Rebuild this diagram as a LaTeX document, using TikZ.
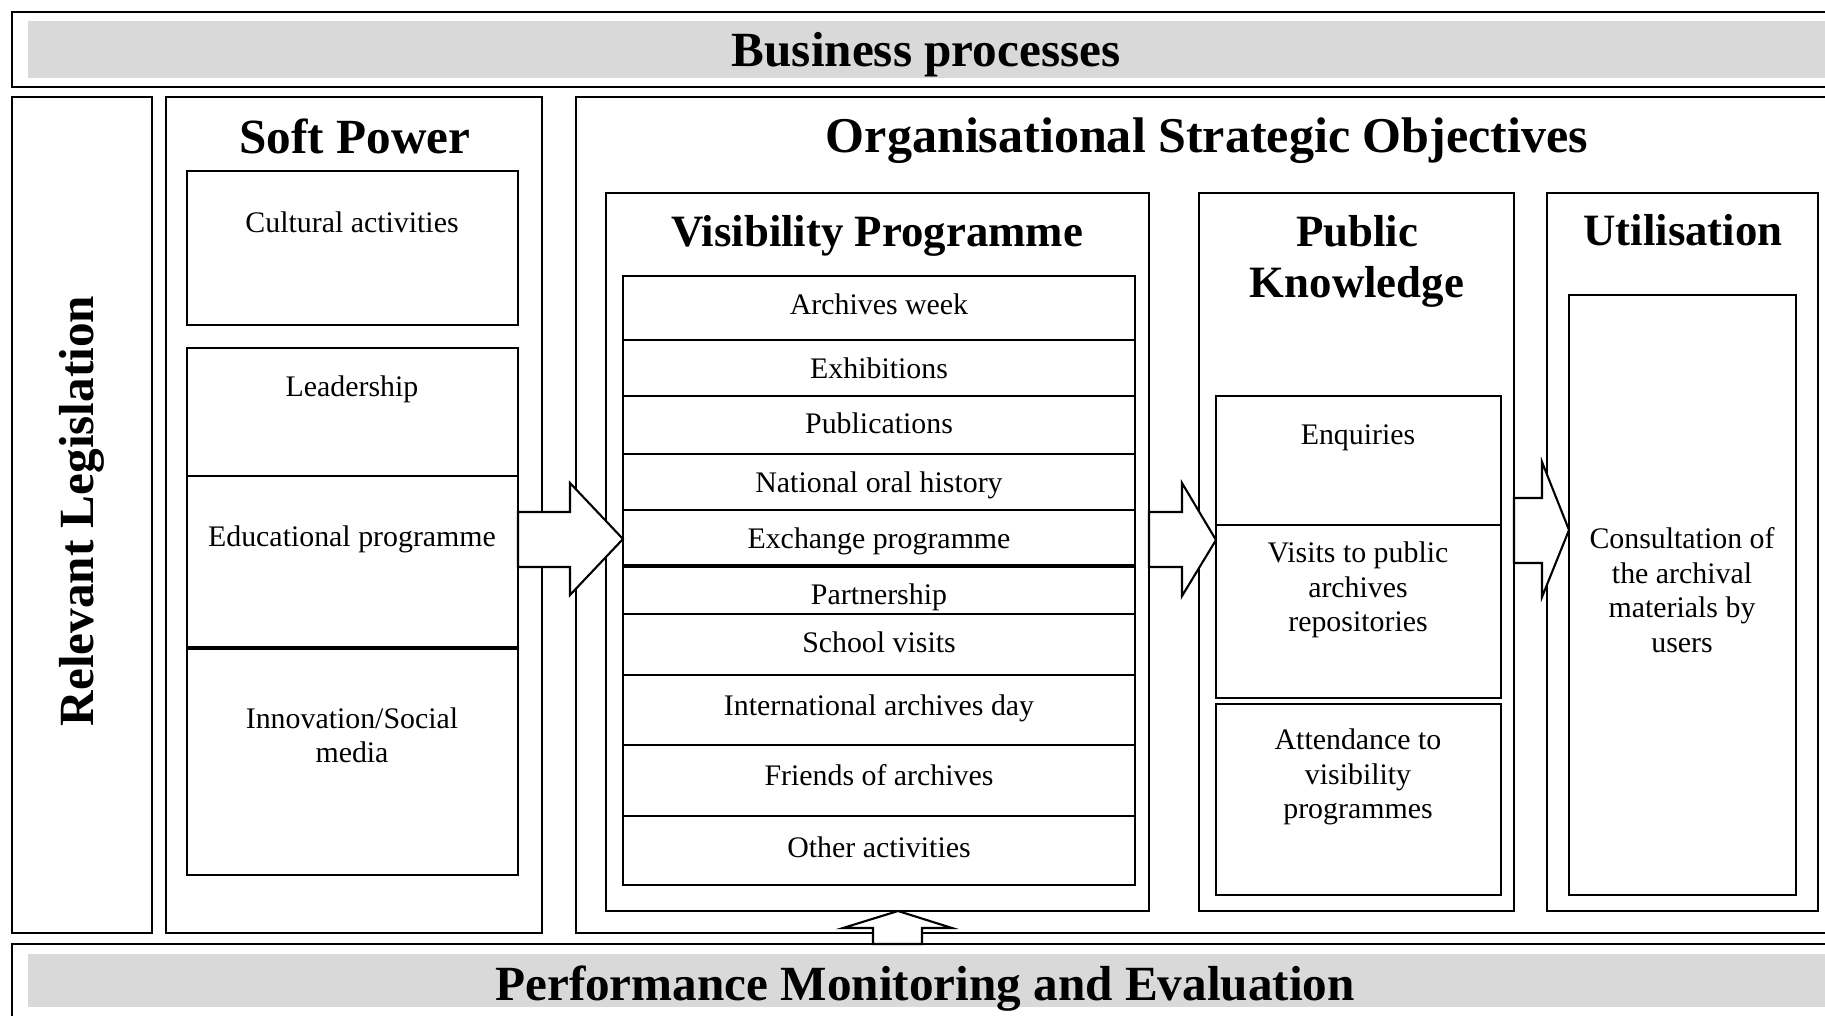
\documentclass[tikz,border=0pt]{standalone}
\usepackage{fontspec}
\setmainfont{Liberation Serif}
\usetikzlibrary{positioning,fit,calc}
\definecolor{bandgray}{RGB}{217,217,217}

\tikzset{
  outerframe/.style={draw, line width=1.3pt, inner sep=0pt, outer sep=0pt},
  innerbox/.style={draw, line width=1.2pt, fill=white, inner sep=0pt, outer sep=0pt},
  grayband/.style={fill=bandgray, inner sep=0pt},
  maintitle/.style={font=\fontsize{28}{32}\selectfont\bfseries},
  paneltitle/.style={font=\fontsize{25.5}{29}\selectfont\bfseries, align=center},
  entrytext/.style={font=\fontsize{17}{19.6}\selectfont, text height=15pt, text depth=1.5pt},
  entrylines/.style={font=\fontsize{17}{19.6}\selectfont, align=center},
  thicksep/.style={line width=2pt},
  fatarrow/.style={draw, line width=1.2pt, fill=white, line join=miter},
}

\begin{document}
\begin{tikzpicture}[x=0.02cm, y=-0.02cm]
\path[use as bounding box, clip] (0,0) rectangle (1825,1016);

% top band
\node[outerframe, fit={(12,12) (1860,87)}] (bpframe) {};
\node[grayband, fit={(28,21) (1860,78)}] (bpband) {};
\node[maintitle] (bptitle) at (926,55) {Business processes};

% legislation
\node[outerframe, fit={(12,97) (152,933)}] (legbox) {};
\node[maintitle, rotate=90] (legtitle) at (82,511) {Relevant Legislation};

% soft power
\node[outerframe, fit={(166,97) (542,933)}] (spbox) {};
\node[maintitle] (sptitle) at (355,136) {Soft Power};
\node[innerbox, fit={(187,171) (518,325)}] (cult) {};
\node[innerbox, fit={(187,348) (518,476)}] (lead) {};
\node[innerbox, fit={(187,476) (518,648)}] (educ) {};
\node[innerbox, fit={(187,648) (518,875)}] (innov) {};
\draw[thicksep] (innov.north west) -- (innov.north east);
\node[entrytext] (culttxt) at (352,221) {Cultural activities};
\node[entrytext] (leadtxt) at (352,385) {Leadership};
\node[entrytext] (eductxt) at (352,535) {Educational programme};
\node[entrylines] (innovtxt) at (352,735) {Innovation/Social\\media};

% strategic objectives
\node[outerframe, fit={(576,97) (1860,933)}] (osobox) {};
\node[maintitle, font=\fontsize{28.5}{32}\selectfont\bfseries] (osotitle) at (1207,141) {Organisational Strategic Objectives};

% visibility programme
\node[innerbox, fit={(606,193) (1149,911)}] (visbox) {};
\node[paneltitle] (vistitle) at (877,236) {Visibility Programme};
\node[innerbox, fit={(623,276) (1135,340)}] (archweek) {};
\node[innerbox, fit={(623,340) (1135,396)}] (exhib) {};
\node[innerbox, fit={(623,396) (1135,454)}] (publ) {};
\node[innerbox, fit={(623,454) (1135,510)}] (oralhist) {};
\node[innerbox, fit={(623,510) (1135,566)}] (exchange) {};
\node[innerbox, fit={(623,566) (1135,614)}] (partner) {};
\node[innerbox, fit={(623,614) (1135,675)}] (school) {};
\node[innerbox, fit={(623,675) (1135,745)}] (intday) {};
\node[innerbox, fit={(623,745) (1135,816)}] (friends) {};
\node[innerbox, fit={(623,816) (1135,885)}] (other) {};
\draw[thicksep] (partner.north west) -- (partner.north east);
\node[entrytext] (archweektxt) at (879,303) {Archives week};
\node[entrytext] (exhibtxt) at (879,367) {Exhibitions};
\node[entrytext] (publtxt) at (879,422) {Publications};
\node[entrytext] (oralhisttxt) at (879,481) {National oral history};
\node[entrytext] (exchangetxt) at (879,537) {Exchange programme};
\node[entrytext] (partnertxt) at (879,593) {Partnership};
\node[entrytext] (schooltxt) at (879,641) {School visits};
\node[entrytext] (intdaytxt) at (879,704) {International archives day};
\node[entrytext] (friendstxt) at (879,774) {Friends of archives};
\node[entrytext] (othertxt) at (879,846) {Other activities};

% public knowledge
\node[innerbox, fit={(1199,193) (1514,911)}] (pkbox) {};
\node[paneltitle] (pktitle) at (1357,261) {Public\\Knowledge};
\node[innerbox, fit={(1216,396) (1501,525)}] (enq) {};
\node[innerbox, fit={(1216,525) (1501,698)}] (visits) {};
\node[innerbox, fit={(1216,704) (1501,895)}] (attend) {};
\node[entrytext] (enqtxt) at (1358,433) {Enquiries};
\node[entrylines] (visitstxt) at (1358,590) {Visits to public\\archives\\repositories};
\node[entrylines] (attendtxt) at (1358,777) {Attendance to\\visibility\\programmes};

% utilisation
\node[innerbox, fit={(1547,193) (1818,911)}] (utilbox) {};
\node[paneltitle] (utiltitle) at (1683,230) {Utilisation};
\node[innerbox, fit={(1569,295) (1796,895)}] (consult) {};
\node[entrylines] (consulttxt) at (1682,590) {Consultation of\\the archival\\materials by\\users};

% bottom band
\node[outerframe, fit={(12,944) (1860,1040)}] (pmframe) {};
\node[grayband, fit={(28,954) (1860,1007)}] (pmband) {};
\node[maintitle] (pmtitle) at (925,989) {Performance Monitoring and Evaluation};

% block arrows
\draw[fatarrow] (educ.east |- 0,512) -- (570,512) -- (570,483) -- (exchange.west |- 0,539)
  -- (570,595) -- (570,567) -- (educ.east |- 0,567) -- cycle;
\draw[fatarrow] (visbox.east |- 0,512) -- (1182,512) -- (1182,483) -- (visits.west |- 0,540)
  -- (1182,596) -- (1182,567) -- (visbox.east |- 0,567) -- cycle;
\draw[fatarrow] (pkbox.east |- 0,498) -- (1542,498) -- (1542,462) -- (consult.west |- 0,530)
  -- (1542,597) -- (1542,563) -- (pkbox.east |- 0,563) -- cycle;
\draw[fatarrow] (pmframe.north -| 873,0) -- (873,928) -- (843,928) -- (visbox.south -| 898,0)
  -- (952,928) -- (922,928) -- (pmframe.north -| 922,0) -- cycle;
\end{tikzpicture}
\end{document}
